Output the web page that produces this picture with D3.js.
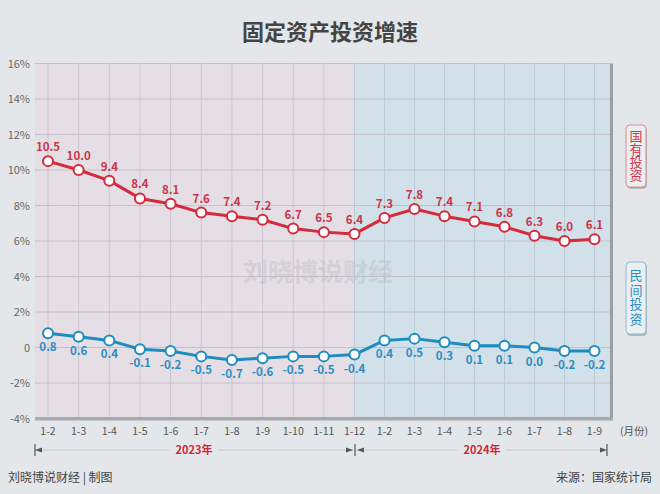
<!DOCTYPE html>
<html><head><meta charset="utf-8">
<script src="https://cdn.jsdelivr.net/npm/d3@7"></script>
<style>
html,body{margin:0;padding:0;background:#e3e7e9;}
svg{display:block;font-family:"Noto Sans CJK SC","Noto Sans",sans-serif;}
</style></head><body>
<svg id="chart" width="660" height="494"></svg>
<script>
const months = ["1-2","1-3","1-4","1-5","1-6","1-7","1-8","1-9","1-10","1-11","1-12","1-2","1-3","1-4","1-5","1-6","1-7","1-8","1-9"];
const stateInvest = [10.5,10.0,9.4,8.4,8.1,7.6,7.4,7.2,6.7,6.5,6.4,7.3,7.8,7.4,7.1,6.8,6.3,6.0,6.1];
const privateInvest = [0.8,0.6,0.4,-0.1,-0.2,-0.5,-0.7,-0.6,-0.5,-0.5,-0.4,0.4,0.5,0.3,0.1,0.1,0.0,-0.2,-0.2];
const yTicks = [16,14,12,10,8,6,4,2,0,-2,-4];
const years = [{label:"2023年", from:0, to:10}, {label:"2024年", from:10, to:18}];

const svg = d3.select("#chart");
const plotL = 35, plotR = 610, plotT = 63.5, plotB = 418.5;

const x = d3.scaleLinear().domain([0,10,18]).range([48,354.5,594.5]);
const y = d3.scaleLinear().domain([-4,16]).range([plotB, plotT]);
const fmt = d => d3.format(".1f")(d).replace("\u2212","-");

// title
svg.append("text").attr("x",330).attr("y",40).attr("text-anchor","middle")
  .attr("font-size",22).attr("font-weight","bold").attr("fill","#444").text("固定资产投资增速");

// plot backgrounds
svg.append("rect").attr("x",plotL).attr("y",plotT).attr("width",x(10)-plotL).attr("height",plotB-plotT).attr("fill","#e5dfe5");
svg.append("rect").attr("x",x(10)).attr("y",plotT).attr("width",plotR-x(10)).attr("height",plotB-plotT).attr("fill","#d2e0e9");

// grid
const g = svg.append("g");
g.selectAll(".hg").data(yTicks.filter(d=>d>-4)).enter().append("line")
  .attr("x1",plotL).attr("x2",plotR).attr("y1",d=>y(d)).attr("y2",d=>y(d))
  .attr("stroke","#c4c0c8").attr("stroke-width",1);
g.selectAll(".vg").data(months.map((m,i)=>i)).enter().append("line")
  .attr("x1",d=>x(d)).attr("x2",d=>x(d)).attr("y1",plotT).attr("y2",plotB)
  .attr("stroke",d=>d<10?"#cdc6ce":"#bccbd6").attr("stroke-width",1);

// right shadow border & bottom bar
svg.append("rect").attr("x",plotR).attr("y",plotT).attr("width",3).attr("height",plotB-plotT+1).attr("fill","#9c9fa3");
svg.append("rect").attr("x",plotL).attr("y",plotB-1.5).attr("width",plotR+3-plotL).attr("height",3.5).attr("fill","#a7a9ac");

// y axis labels
svg.selectAll(".yl").data(yTicks).enter().append("text")
  .attr("x",30).attr("y",d=>y(d)+4).attr("text-anchor","end")
  .attr("font-size",11).attr("fill","#666").text(d=>d===0?"0":d+"%");

// watermark
svg.append("text").attr("x",318).attr("y",281).attr("text-anchor","middle")
  .attr("font-size",25).attr("font-weight","bold").attr("fill","#b9bcc2").attr("opacity",0.4)
  .text("刘晓博说财经");

// lines
function series(data, color, labelColor, above){
  const line = d3.line().x((d,i)=>x(i)).y(d=>y(d));
  svg.append("path").datum(data).attr("d",line).attr("fill","none")
    .attr("stroke",color).attr("stroke-width",3).attr("stroke-linejoin","round");
  svg.selectAll(null).data(data).enter().append("circle")
    .attr("cx",(d,i)=>x(i)).attr("cy",d=>y(d)).attr("r",5)
    .attr("fill","#fff").attr("stroke",color).attr("stroke-width",2);
  svg.selectAll(null).data(data).enter().append("text")
    .attr("x",(d,i)=>x(i)).attr("y",d=>above? y(d)-10 : y(d)+18)
    .attr("text-anchor","middle").attr("font-size",11.5).attr("font-weight","bold")
    .attr("fill",labelColor).text(d=>fmt(d));
}
series(stateInvest, "#d42a3c", "#c9344a", true);
series(privateInvest, "#1d8cc1", "#2a8dc3", false);

// x labels
svg.selectAll(".xl").data(months).enter().append("text")
  .attr("x",(d,i)=>x(i)).attr("y",435).attr("text-anchor","middle")
  .attr("font-size",10.5).attr("fill","#555").text(d=>d);
svg.append("text").attr("x",634).attr("y",435).attr("text-anchor","middle")
  .attr("font-size",10.5).attr("fill","#555").text("(月份)");

// year brackets
const yr = 450;
const ends = [35, 355, 607];
years.forEach((yy,k)=>{
  const a = ends[k] + (k===1?2:0), b = ends[k+1] - (k===0?2:0);
  svg.append("line").attr("x1",a).attr("x2",b).attr("y1",yr).attr("y2",yr).attr("stroke","#c6cacd").attr("stroke-width",1);
  svg.append("path").attr("d",`M${a},${yr} l7,-2.5 v5 z`).attr("fill","#555");
  svg.append("path").attr("d",`M${b},${yr} l-7,-2.5 v5 z`).attr("fill","#555");
  const mid = (a+b)/2;
  const t = svg.append("text").attr("x",mid).attr("y",yr+4).attr("text-anchor","middle")
    .attr("font-size",11).attr("font-weight","bold").attr("fill","#d0283c").text(yy.label);
  const bb = t.node().getBBox();
  svg.insert("rect", () => t.node()).attr("x",bb.x-6).attr("y",bb.y).attr("width",bb.width+12).attr("height",bb.height).attr("fill","#e3e7e9");
});
ends.forEach(e=>{
  svg.append("line").attr("x1",e).attr("x2",e).attr("y1",yr-6).attr("y2",yr+6).attr("stroke","#555").attr("stroke-width",1.2);
});

// footer
svg.append("text").attr("x",8).attr("y",482).attr("font-size",12).attr("fill","#444").text("刘晓博说财经 | 制图");
svg.append("text").attr("x",652).attr("y",482).attr("text-anchor","end").attr("font-size",12).attr("fill","#444").text("来源：国家统计局");

// legend boxes with vertical text
function legendBox(y0, h, label, color, border, spacing){
  svg.append("rect").attr("x",627).attr("y",y0+2).attr("width",20).attr("height",h).attr("rx",4).attr("fill","#b5b8bc");
  svg.append("rect").attr("x",626).attr("y",y0).attr("width",20).attr("height",h).attr("rx",4)
    .attr("fill","#eceef0").attr("stroke",border).attr("stroke-width",1);
  svg.append("text").attr("x",636).attr("y",y0+h/2).attr("text-anchor","middle")
    .attr("font-size",13).attr("fill",color)
    .style("writing-mode","vertical-rl").style("text-orientation","upright")
    .attr("letter-spacing",spacing).text(label);
}
legendBox(125, 62, "国有投资", "#d0354a", "#d98a96", 0);
legendBox(262, 72, "民间投资", "#2a8fc4", "#86bcd8", 1.5);
</script></body></html>
